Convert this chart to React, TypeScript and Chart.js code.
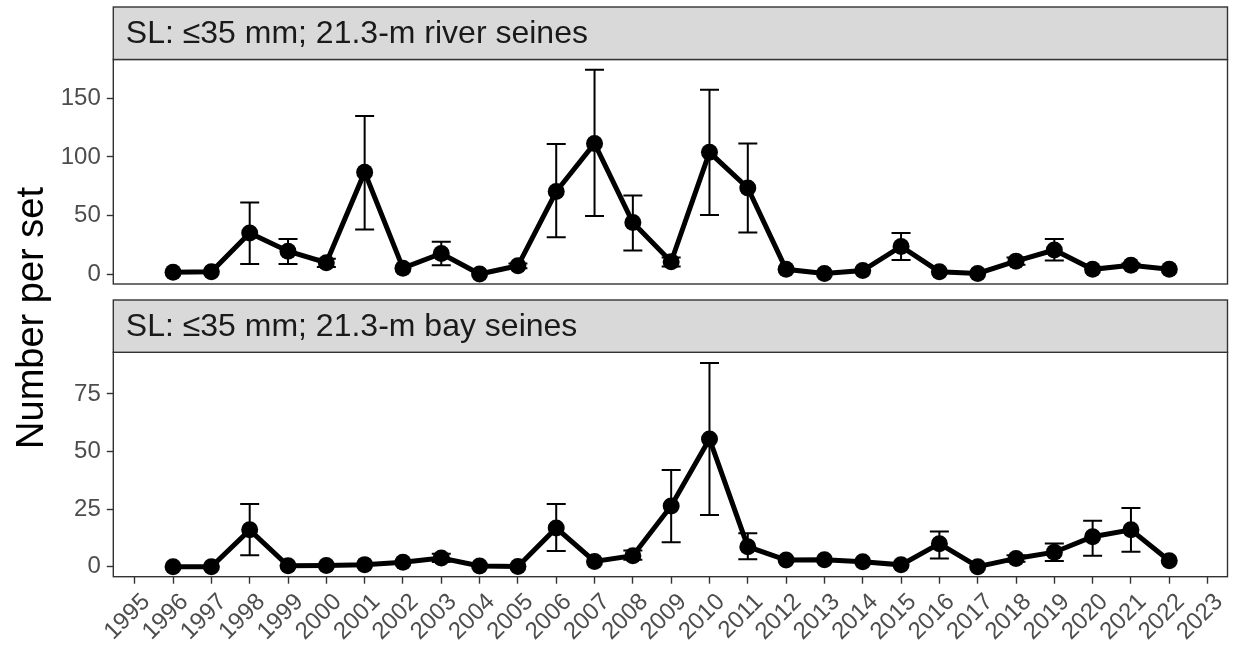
import React, { useEffect, useRef } from "react";
import { Chart, registerables } from "chart.js";

Chart.register(...registerables);

// ---------- data ----------
const years = [1996, 1997, 1998, 1999, 2000, 2001, 2002, 2003, 2004, 2005, 2006, 2007, 2008, 2009, 2010, 2011, 2012, 2013, 2014, 2015, 2016, 2017, 2018, 2019, 2020, 2021, 2022];

const riverMean = [1.5, 2, 35, 19.5, 9.7, 87, 5, 17.5, 0, 7, 70.5, 111.5, 44, 10.5, 104, 73.5, 4, 0.5, 3, 23.5, 2, 0.5, 11, 20.5, 4, 7.5, 4];
const riverLow = [1.5, 2, 8.5, 8.5, 6, 38, 5, 7.5, 0, 5, 31.5, 49.5, 20, 6.5, 50.5, 35.5, 4, 0.5, 3, 12, 2, 0.5, 8, 11.5, 4, 6, 4];
const riverHigh = [1.5, 2, 61, 30, 13, 135, 5, 27.5, 0, 9, 111, 174.5, 67, 14, 157.5, 111.5, 4, 0.5, 3, 35, 2, 0.5, 14, 30, 4, 9, 4];

const bayMean = [0, 0, 16, 0.4, 0.5, 0.9, 1.9, 3.8, 0.3, 0.1, 16.8, 2.3, 4.8, 26.4, 55.5, 8.7, 2.9, 3, 2.2, 0.8, 10, 0, 3.6, 6.3, 13, 16, 2.6];
const bayLow = [0, 0, 5, 0.4, 0.5, 0.9, 1.9, 2, 0.3, 0.1, 6.8, 2.3, 3, 10.6, 22.5, 3.2, 2.9, 3, 2.2, 0.8, 3.6, 0, 2.2, 2.5, 4.8, 6.5, 2.6];
const bayHigh = [0, 0, 27.2, 0.4, 0.5, 0.9, 1.9, 5.6, 0.3, 0.1, 27.2, 2.3, 7, 42, 88.4, 14.5, 2.9, 3, 2.2, 0.8, 15.3, 0, 5, 10.1, 20, 25.5, 2.6];

const xTickYears = [1995, 1996, 1997, 1998, 1999, 2000, 2001, 2002, 2003, 2004, 2005, 2006, 2007, 2008, 2009, 2010, 2011, 2012, 2013, 2014, 2015, 2016, 2017, 2018, 2019, 2020, 2021, 2022, 2023];
const riverYTicks = [0, 50, 100, 150];
const bayYTicks = [0, 25, 50, 75];

const riverStrip = "SL: ≤35 mm; 21.3-m river seines";
const bayStrip = "SL: ≤35 mm; 21.3-m bay seines";
const yAxisTitle = "Number per set";

// ---------- layout / style ----------
const W = 1236;
const H = 647;
const FONT = "'Liberation Sans', Arial, Helvetica, sans-serif";
const X_MIN = 1994.44;
const X_MAX = 2023.52;
const PLOT_LEFT = 113.3;
const PAD_RIGHT = 5;

type PanelCfg = {
  strip: string;
  mean: number[];
  low: number[];
  high: number[];
  yTicks: number[];
  yMin: number;
  yMax: number;
  stripTop: number;
  plotTop: number;
  plotBottom: number;
  showX: boolean;
};

function makePanel(canvas: HTMLCanvasElement, cfg: PanelCfg) {
  const panelPlugin = {
    id: "panelDecor",
    beforeDatasetsDraw(chart: any) {
      const ctx = chart.ctx;
      const xs = chart.scales.x;
      const ys = chart.scales.y;
      ctx.save();
      ctx.strokeStyle = "#000";
      ctx.lineWidth = 2;
      const cap = 9.5;
      years.forEach((yr, i) => {
        const lo = cfg.low[i];
        const hi = cfg.high[i];
        if (hi - lo < 0.01) return;
        const px = xs.getPixelForValue(yr);
        const pLo = ys.getPixelForValue(lo);
        const pHi = ys.getPixelForValue(hi);
        ctx.beginPath();
        ctx.moveTo(px, pLo);
        ctx.lineTo(px, pHi);
        ctx.moveTo(px - cap, pLo);
        ctx.lineTo(px + cap, pLo);
        ctx.moveTo(px - cap, pHi);
        ctx.lineTo(px + cap, pHi);
        ctx.stroke();
      });
      ctx.restore();
    },
    afterDraw(chart: any) {
      const ctx = chart.ctx;
      const a = chart.chartArea;
      ctx.save();
      // panel border
      ctx.strokeStyle = "#333333";
      ctx.lineWidth = 1.4;
      ctx.strokeRect(a.left, a.top, a.right - a.left, a.bottom - a.top);
      // strip
      ctx.fillStyle = "#D9D9D9";
      ctx.fillRect(a.left, cfg.stripTop, a.right - a.left, a.top - cfg.stripTop);
      ctx.strokeRect(a.left, cfg.stripTop, a.right - a.left, a.top - cfg.stripTop);
      ctx.fillStyle = "#1A1A1A";
      ctx.font = `32px ${FONT}`;
      ctx.textAlign = "left";
      ctx.textBaseline = "middle";
      ctx.fillText(cfg.strip, a.left + 12.5, (cfg.stripTop + a.top) / 2 + 1);

      if (cfg.showX) {
        const xs = chart.scales.x;
        ctx.fillStyle = "#4D4D4D";
        ctx.font = `24px ${FONT}`;
        ctx.textAlign = "right";
        ctx.textBaseline = "top";
        xTickYears.forEach((yr) => {
          const px = xs.getPixelForValue(yr);
          ctx.save();
          ctx.translate(px + 3, a.bottom + 13);
          ctx.rotate(-Math.PI / 4);
          ctx.fillText(String(yr), 0, 0);
          ctx.restore();
        });
        // y axis title spanning both panels
        ctx.fillStyle = "#000";
        ctx.font = `38px ${FONT}`;
        ctx.textAlign = "center";
        ctx.textBaseline = "middle";
        ctx.save();
        ctx.translate(33, 318);
        ctx.rotate(-Math.PI / 2);
        ctx.fillText(yAxisTitle, 0, 0);
        ctx.restore();
      }
      ctx.restore();
    },
  };

  return new Chart(canvas, {
    type: "line",
    data: {
      datasets: [
        {
          data: years.map((yr, i) => ({ x: yr, y: cfg.mean[i] })),
          borderColor: "#000",
          backgroundColor: "#000",
          borderWidth: 5,
          pointRadius: 8.5,
          pointBackgroundColor: "#000",
          pointBorderWidth: 0,
          tension: 0,
          clip: false as any,
        },
      ],
    },
    options: {
      responsive: false,
      animation: false,
      events: [],
      devicePixelRatio: 1,
      layout: {
        padding: {
          left: 0,
          right: PAD_RIGHT,
          top: cfg.plotTop,
          bottom: cfg.showX ? 0 : H - cfg.plotBottom,
        },
      },
      plugins: {
        legend: { display: false },
        tooltip: { enabled: false },
        title: { display: false },
      },
      scales: {
        x: {
          type: "linear",
          display: cfg.showX,
          min: X_MIN,
          max: X_MAX,
          afterBuildTicks: (s: any) => {
            s.ticks = xTickYears.map((v) => ({ value: v }));
          },
          afterFit: (s: any) => {
            s.height = cfg.showX ? H - cfg.plotBottom : 0;
          },
          grid: {
            display: true,
            drawOnChartArea: false,
            drawTicks: true,
            tickLength: 7,
            tickColor: "#333333",
            tickWidth: 1.4,
          },
          border: { display: false },
          ticks: { display: false, autoSkip: false },
        },
        y: {
          type: "linear",
          min: cfg.yMin,
          max: cfg.yMax,
          afterBuildTicks: (s: any) => {
            s.ticks = cfg.yTicks.map((v) => ({ value: v }));
          },
          afterFit: (s: any) => {
            s.width = PLOT_LEFT;
          },
          grid: {
            display: true,
            drawOnChartArea: false,
            drawTicks: true,
            tickLength: 6.5,
            tickColor: "#333333",
            tickWidth: 1.4,
          },
          border: { display: false },
          ticks: {
            autoSkip: false,
            padding: 6,
            color: "#4D4D4D",
            font: { family: FONT, size: 24 },
            callback: (v: any) => String(v),
          },
        },
      },
    },
    plugins: [panelPlugin],
  } as any);
}

export default function App() {
  const topRef = useRef<HTMLCanvasElement | null>(null);
  const botRef = useRef<HTMLCanvasElement | null>(null);

  useEffect(() => {
    if (!topRef.current || !botRef.current) return;
    const c1 = makePanel(topRef.current, {
      strip: riverStrip,
      mean: riverMean,
      low: riverLow,
      high: riverHigh,
      yTicks: riverYTicks,
      yMin: -8.54,
      yMax: 183.3,
      stripTop: 7,
      plotTop: 59.5,
      plotBottom: 284,
      showX: false,
    });
    const c2 = makePanel(botRef.current, {
      strip: bayStrip,
      mean: bayMean,
      low: bayLow,
      high: bayHigh,
      yTicks: bayYTicks,
      yMin: -4.34,
      yMax: 93.1,
      stripTop: 300,
      plotTop: 352.3,
      plotBottom: 576.7,
      showX: true,
    });
    return () => {
      c1.destroy();
      c2.destroy();
    };
  }, []);

  const canvasStyle: React.CSSProperties = { position: "absolute", left: 0, top: 0 };
  return (
    <div style={{ position: "absolute", left: 0, top: 0, width: W, height: H, background: "#fff" }}>
      <canvas ref={topRef} width={W} height={H} style={canvasStyle} />
      <canvas ref={botRef} width={W} height={H} style={canvasStyle} />
    </div>
  );
}
